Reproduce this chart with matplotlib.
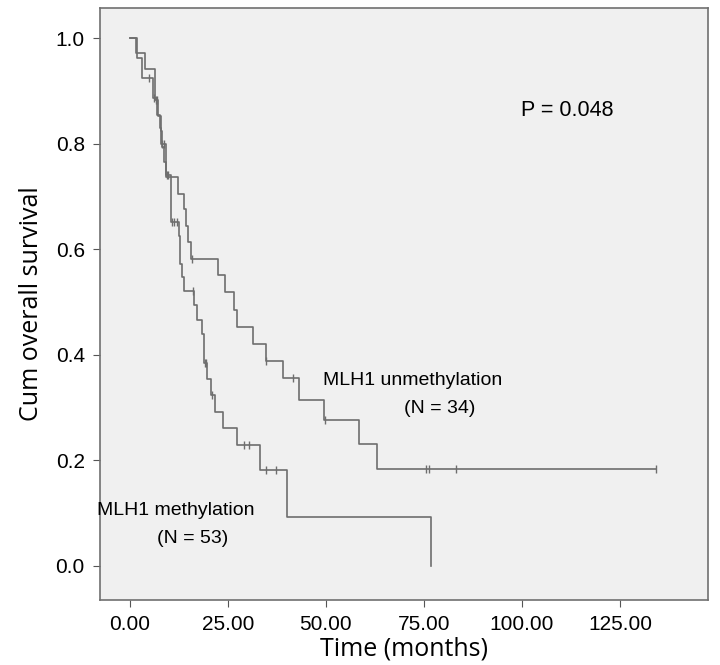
import numpy as np
import matplotlib.pyplot as plt

# Kaplan-Meier steps (time in months, survival after the event)
unmeth_times = [1.5, 3.8, 6.4, 7.3, 7.9, 8.3, 8.8, 9.1, 12.2, 13.9, 14.3, 14.7, 15.5,
                22.4, 24.2, 26.6, 27.3, 31.3, 34.7, 39.1, 43.2, 49.6, 58.5, 63.1]
unmeth_surv = [0.971, 0.941, 0.882, 0.853, 0.824, 0.794, 0.765, 0.737, 0.705, 0.675,
               0.643, 0.613, 0.582, 0.550, 0.518, 0.485, 0.452, 0.420, 0.388, 0.355,
               0.314, 0.275, 0.231, 0.183]
unmeth_censor = [6.6, 7.0, 15.8, 34.8, 41.5, 49.7, 75.5, 76.4, 83.3, 134.1]
unmeth_end = 134.1

meth_times = [1.9, 3.0, 5.8, 7.0, 7.6, 8.0, 9.2, 10.4, 10.6, 12.6, 12.9, 13.4, 13.8,
              16.3, 17.0, 18.4, 18.8, 19.7, 20.6, 21.7, 23.8, 27.2, 33.2, 40.2, 76.8]
meth_surv = [0.962, 0.925, 0.886, 0.854, 0.830, 0.800, 0.740, 0.674, 0.651, 0.624,
             0.572, 0.547, 0.520, 0.493, 0.465, 0.438, 0.384, 0.354, 0.324, 0.292,
             0.260, 0.228, 0.182, 0.092, 0.0]
meth_censor = [4.8, 6.2, 8.3, 8.6, 9.4, 9.6, 10.8, 11.3, 12.0, 16.0, 19.1, 19.5,
               21.0, 29.2, 30.4, 34.7, 37.2]
meth_end = 76.8

x_ticks = [0, 25, 50, 75, 100, 125]
y_ticks = [0.0, 0.2, 0.4, 0.6, 0.8, 1.0]

line_col = '#6e6e6e'


def surv_at(times, surv, t):
    # value of the step function at time t
    i = np.searchsorted(times, t, side='right')
    return 1.0 if i == 0 else surv[i - 1]


fig = plt.figure(figsize=(7.2, 6.65), dpi=100)
ax = fig.add_axes([0.139, 0.098, 0.844, 0.890])
ax.set_facecolor('#f0f0f0')

for times, surv, cens, end in [(unmeth_times, unmeth_surv, unmeth_censor, unmeth_end),
                               (meth_times, meth_surv, meth_censor, meth_end)]:
    xs = [0] + list(times) + [end]
    ys = [1.0] + list(surv) + [surv[-1]]
    ax.step(xs, ys, where='post', color=line_col, lw=1.2)
    cy = [surv_at(times, surv, c) for c in cens]
    ax.plot(cens, cy, ls='none', marker='|', ms=6, mew=1.0, color=line_col)

ax.set_xlim(-7.6, 147.4)
ax.set_ylim(-0.065, 1.057)
ax.set_xticks(x_ticks)
ax.set_xticklabels([f'{v:.2f}' for v in x_ticks], fontsize=15, family='Liberation Sans')
ax.set_yticks(y_ticks)
ax.set_yticklabels([f'{v:.1f}' for v in y_ticks], fontsize=15, family='Liberation Sans')
ax.tick_params(direction='out', length=5, color='#555555', pad=6)
for s in ax.spines.values():
    s.set_color('#707070')
    s.set_linewidth(1.2)

ax.set_xlabel('Time (months)', fontsize=18, family='Open Sans', labelpad=2)
ax.set_ylabel('Cum overall survival', fontsize=18, family='Open Sans', labelpad=8)

ax.text(111.5, 0.863, 'P = 0.048', fontsize=15.5, family='Liberation Sans',
        ha='center', va='center')
ax.text(72.0, 0.351, 'MLH1 unmethylation', fontsize=14, family='Liberation Sans',
        ha='center', va='center')
ax.text(79.0, 0.298, '(N = 34)', fontsize=14, family='Liberation Sans',
        ha='center', va='center')
ax.text(11.7, 0.104, 'MLH1 methylation', fontsize=14, family='Liberation Sans',
        ha='center', va='center')
ax.text(16.0, 0.051, '(N = 53)', fontsize=14, family='Liberation Sans',
        ha='center', va='center')

fig.savefig('out.png', dpi=100)
